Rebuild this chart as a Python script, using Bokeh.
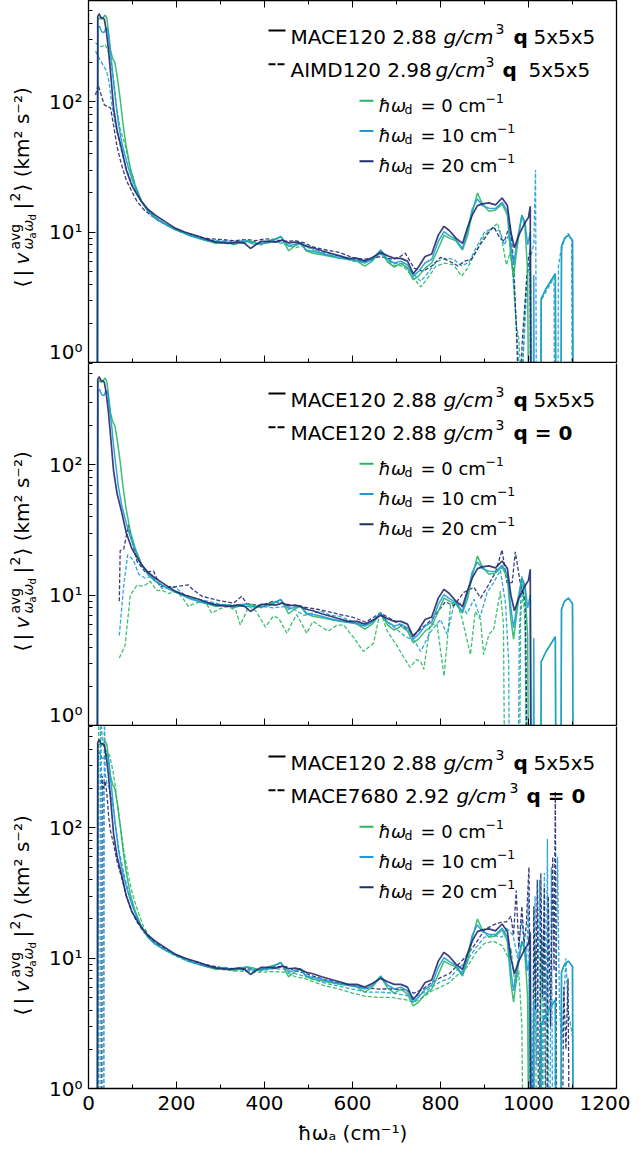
import math
from bokeh.plotting import figure
from bokeh.models import (Range1d, FixedTicker, LinearAxis, LogAxis, Label, BoxAnnotation,
                          CustomJSTickFormatter)
from bokeh.layouts import column, row
from bokeh.embed import file_html
from bokeh.resources import INLINE

# ---------------- data ----------------
# MACE120 2.88 g/cm3, q 5x5x5 (solid, same in every panel)
S0_X = [20, 21, 25, 30, 35, 38, 42, 46, 50, 55, 60, 66, 72, 78, 85, 95, 106, 120, 135, 150, 170, 190, 210,
        230, 250, 270, 290, 310, 330, 345, 360, 375, 392, 410, 425, 438, 455, 470, 482, 495, 510, 530, 550,
        570, 590, 610, 628, 645, 664, 680, 695, 710, 725, 738, 750, 765, 780, 795, 808, 820, 835, 850, 862,
        872, 884, 895, 910, 925, 940, 952, 960, 966, 975, 985, 992, 998, 1002,
        1027, 1029, 1040, 1061, 1063, 1073, 1075, 1082, 1091, 1098, 1100, 1102]
S0_Y = [0.05, 430, 440, 430, 450, 465, 430, 330, 250, 215, 200, 150, 105, 70, 47, 31, 23, 17.5, 14.5, 13.0,
        11.8, 10.8, 10.2, 9.5, 9.0, 8.6, 8.2, 8.5, 8.0, 8.3, 8.6, 8.4, 8.0, 8.6, 8.9, 9.2, 7.2, 7.9, 8.2, 7.2,
        6.9, 6.7, 6.5, 6.3, 6.2, 6.0, 5.5, 6.0, 7.2, 5.9, 5.4, 5.8, 5.3, 4.3, 4.6, 5.3, 5.8, 7.5, 9.5, 9.0,
        8.6, 7.3, 9.5, 14, 20, 16.5, 14.5, 14.8, 16.5, 13.5, 6.5, 4.6, 8, 13.5, 11, 5, 0.05,
        0.05, 3.1, 3.7, 4.8, 0.05, 0.05, 7.8, 9.0, 9.5, 8.8, 8.6, 0.05]
S10_X = [20, 21, 25, 30, 35, 40, 44, 48, 52, 57, 62, 68, 75, 82, 91, 100, 110, 120, 135, 150, 170, 190, 210,
         230, 250, 270, 290, 310, 330, 345, 360, 375, 392, 410, 425, 436, 455, 470, 482, 495, 510, 530, 550,
         570, 590, 610, 628, 645, 664, 680, 695, 710, 725, 738, 750, 765, 780, 795, 808, 820, 835, 850, 862,
         872, 884, 895, 910, 925, 940, 952, 960, 966, 975, 985, 992, 998, 1004, 1008, 1010, 1012, 1014,
         1027, 1029, 1040, 1061, 1063, 1073, 1075, 1082, 1091, 1098, 1100, 1102]
S10_Y = [0.05, 370, 380, 345, 340, 370, 360, 270, 210, 140, 100, 68, 50, 40, 31, 25, 20.5, 17.2, 14.5, 12.9,
         11.8, 10.9, 10.1, 9.4, 9.0, 8.6, 8.5, 8.4, 8.2, 8.5, 8.5, 8.1, 8.2, 8.3, 8.8, 9.3, 7.8, 8.1, 8.3, 7.3,
         7.1, 6.9, 6.6, 6.4, 6.2, 6.1, 5.8, 6.2, 7.3, 6.2, 5.8, 6.0, 5.6, 4.6, 5.0, 5.8, 6.2, 8.5, 10.1, 9.4,
         8.8, 7.5, 10.5, 15, 18, 16, 15.3, 15.2, 17, 14.5, 8, 5.6, 9, 13.5, 12, 8, 10, 0.05, 0.05, 4.7, 0.05,
         0.05, 3.1, 3.7, 4.8, 0.05, 0.05, 7.8, 9.0, 9.5, 8.8, 8.6, 0.05]
S20_X = [20, 21, 24, 28, 33, 36, 40, 45, 50, 57, 65, 75, 86, 98, 110, 120, 135, 152, 175, 198, 220, 250, 270,
         290, 318, 340, 355, 368, 380, 392, 410, 425, 440, 455, 470, 482, 495, 510, 530, 550, 570, 590, 610,
         628, 645, 664, 680, 695, 710, 725, 738, 750, 765, 780, 795, 808, 820, 835, 850, 862, 872, 884, 895,
         910, 925, 940, 952, 960, 968, 978, 990, 1000, 1004, 1006]
S20_Y = [0.05, 450, 475, 445, 440, 430, 360, 260, 170, 90, 60, 44, 30, 23, 19.5, 17.3, 15, 13.5, 12, 10.7, 10,
         9.3, 8.8, 8.4, 8.2, 8.4, 8.2, 7.5, 8.0, 8.5, 8.5, 8.4, 8.7, 8.3, 8.4, 8.2, 7.8, 7.6, 7.2, 6.9, 6.6,
         6.3, 6.3, 6.0, 6.4, 7.0, 6.6, 6.3, 6.3, 6.0, 4.8, 5.4, 6.5, 6.8, 9.5, 11.1, 10.3, 9.0, 8.2, 11.0,
         13.5, 16, 16.5, 16.8, 16.2, 18.3, 16, 10, 7.6, 9.5, 11.5, 13, 15.8, 0.05]

# AIMD120 2.98 g/cm3, q 5x5x5 (dashed, panel 1)
A0_X = [16, 22, 30, 38, 44, 52, 58, 64, 72, 83, 95, 106, 120, 140, 160, 180, 200, 225, 250, 275, 300, 330,
        360, 390, 420, 450, 470, 490, 510, 540, 570, 600, 620, 645, 664, 690, 715, 735, 755, 770, 790, 810,
        830, 848, 860, 875, 900, 920, 930, 940, 950, 958, 965, 972, 978, 985, 992, 998, 1003, 1006]
A0_Y = [285, 270, 265, 275, 250, 192, 140, 90, 62, 47, 31, 23, 17.5, 14, 12.3, 11.2, 10.3, 9.6, 9.0, 8.5,
        8.3, 8.3, 8.4, 8.1, 8.5, 8.0, 7.6, 7.9, 7.3, 6.7, 6.6, 6.0, 5.9, 6.1, 6.9, 5.6, 5.5, 4.6, 3.8, 4.4,
        5.5, 5.8, 5.6, 4.6, 5.2, 6.5, 9.5, 11, 11.7, 8.5, 5.6, 7.0, 5, 2, 1.5, 0.6, 2.5, 5.5, 6.0, 0.05]
A10_X = [16, 23, 30, 41, 47, 52, 60, 68, 78, 90, 100, 115, 135, 160, 180, 200, 225, 250, 275, 300, 330, 360,
         390, 420, 450, 470, 490, 510, 540, 570, 600, 620, 645, 664, 690, 715, 735, 755, 770, 790, 810, 830,
         848, 865, 880, 900, 920, 935, 945, 955, 962, 970, 976, 982, 990, 998, 1005, 1012, 1016, 1019,
         1027, 1029, 1040, 1058, 1060, 1066, 1068, 1073, 1082, 1090, 1098, 1100]
A10_Y = [246, 220, 200, 173, 140, 101, 70, 53, 38, 28, 23, 18.5, 14.6, 12.5, 11.2, 10.4, 9.6, 9.1, 8.7, 8.6,
         8.5, 8.6, 8.3, 8.6, 8.2, 8.0, 8.1, 7.4, 6.9, 6.6, 6.2, 6.0, 6.2, 6.8, 5.8, 5.7, 4.9, 4.2, 4.8, 5.9,
         6.3, 6.2, 5.5, 5.9, 7.5, 10, 10.8, 10.2, 8.0, 9.5, 6, 2.5, 1.2, 0.5, 1.5, 4.8, 6.5, 8, 30, 0.05,
         0.05, 3.0, 3.5, 4.5, 0.05, 0.05, 5.5, 7, 8.8, 9.8, 9.0, 0.05]
A20_X = [16, 22, 28, 36, 44, 50, 57, 65, 75, 86, 98, 110, 125, 140, 160, 180, 200, 225, 250, 275, 300, 330,
         360, 380, 400, 420, 445, 470, 490, 510, 540, 570, 600, 625, 645, 664, 690, 705, 720, 740, 760, 780,
         800, 820, 840, 855, 870, 890, 910, 921, 935, 945, 958, 966, 972, 976, 980, 986, 995, 1000, 1004, 1008]
A20_Y = [113, 135, 115, 95, 92, 90, 66, 45, 33, 25, 20.7, 17.3, 15, 13.6, 12.2, 11.2, 10.4, 9.7, 9.2, 8.9,
         8.8, 8.6, 8.8, 8.6, 8.9, 8.8, 8.5, 8.6, 8.3, 7.7, 7.3, 7.0, 6.4, 6.2, 6.3, 6.5, 6.2, 6.4, 6.9, 5.3,
         5.0, 5.5, 6.4, 6.0, 5.5, 6.0, 6.2, 8, 10, 11, 9, 8.5, 11.5, 6, 2, 0.8, 0.5, 1.5, 4, 6.3, 7.5, 0.05]

# MACE120 2.88 g/cm3, q = 0 (dashed, panel 2)
M0_X = [70, 83, 95, 110, 125, 140, 155, 170, 182, 195, 205, 215, 227, 240, 258, 270, 280, 300, 318, 335, 345,
        355, 364, 380, 402, 420, 432, 451, 462, 473, 485, 496, 510, 523, 545, 565, 580, 603, 625, 648, 663,
        679, 701, 715, 731, 745, 755, 762, 777, 792, 808, 823, 838, 849, 868, 879, 891, 898, 910, 921, 936,
        943, 948, 978, 982, 988, 993, 997]
M0_Y = [3.3, 4.1, 10, 11.9, 11.7, 12.8, 10.9, 10.8, 10.3, 10.6, 10.3, 9.4, 8.2, 8.6, 9.0, 8.4, 7.3, 7.9, 8.2,
        7.6, 5.9, 7.0, 8.2, 7.6, 5.7, 6.9, 6.7, 5.1, 6.1, 7.1, 6.0, 5.1, 6.3, 5.9, 5.3, 5.9, 5.9, 4.7, 3.7,
        4.3, 7.5, 5.3, 4.1, 3.4, 2.8, 3.2, 3.1, 2.7, 6.0, 6.0, 2.4, 8.6, 8.6, 6.6, 3.5, 7.5, 6.5, 3.5, 5.0,
        5.5, 10.7, 6, 0.05, 0.05, 7, 10.7, 5, 0.05]
M10_X = [70, 80, 89, 102, 114, 129, 144, 167, 197, 220, 245, 270, 300, 330, 360, 390, 420, 450, 470, 490, 510,
         530, 550, 570, 600, 620, 640, 663, 680, 700, 720, 740, 755, 777, 800, 815, 830, 845, 860, 876, 890,
         906, 921, 936, 948, 955, 958, 975, 979, 985, 992, 997]
M10_Y = [4.9, 11.9, 20.4, 18.6, 14.5, 13.5, 14, 11.3, 11.5, 10.0, 9.4, 9.0, 8.5, 8.4, 8.2, 8.2, 8.0, 8.2, 7.7,
         7.0, 7.3, 7.5, 7.0, 6.9, 6.3, 5.8, 6.1, 7.2, 6.2, 5.5, 4.8, 4.5, 3.7, 5.2, 6.5, 5.0, 8.3, 8.6, 7.2,
         9.3, 6.8, 10.5, 12.5, 15.6, 8.5, 3, 0.05, 0.05, 5, 14, 8, 0.05]
M20_X = [70, 72, 80, 91, 98, 110, 129, 148, 163, 197, 227, 235, 258, 303, 330, 348, 360, 392, 420, 440, 460,
         490, 520, 550, 580, 600, 630, 663, 690, 720, 740, 755, 780, 811, 830, 853, 876, 891, 906, 925, 940,
         951, 963, 970, 982, 993, 1000]
M20_Y = [9.0, 22, 22.6, 34.6, 27, 18.3, 15, 15.3, 11.7, 11.6, 12.0, 11.2, 9.8, 9.0, 8.7, 9.8, 8.6, 8.3, 9.0,
         8.7, 8.4, 8.1, 7.8, 7.4, 7.0, 6.8, 6.2, 7.3, 6.5, 5.6, 5.0, 5.5, 6.5, 8.9, 8.3, 10.5, 11.5, 9.5,
         11.5, 15, 22.3, 12.5, 12.5, 21.5, 12, 9, 0.05]

# MACE7680 2.92 g/cm3, q = 0 (dashed, panel 3)
K0_X = [22, 23, 27, 31, 36, 42, 48, 55, 60, 66, 72, 80, 90, 100, 112, 125, 140, 160, 180, 200, 225, 250, 275,
        300, 330, 360, 390, 420, 450, 470, 490, 510, 540, 570, 600, 630, 660, 690, 720, 740, 760, 780, 800,
        820, 840, 860, 880, 900, 920, 940, 955, 960, 970, 978, 985, 990, 998, 1002, 1008, 1015, 1020, 1030,
        1035, 1042, 1046]
K0_Y = [0.05, 700, 900, 500, 420, 380, 360, 280, 220, 150, 105, 68, 44, 31, 23, 17.5, 14.5, 12.3, 11.2, 10.3,
        9.5, 9.0, 8.5, 8.2, 8.0, 7.9, 7.8, 7.9, 7.8, 7.2, 7.0, 6.6, 6.1, 5.8, 5.4, 5.1, 5.0, 5.0, 4.8, 4.6,
        5.0, 5.6, 6.0, 6.5, 7.5, 8.5, 11, 13, 13.5, 12.5, 10, 12, 6, 8, 3, 0.05, 0.05, 10, 0.05, 12, 0.05,
        15, 0.05, 8, 0.05]
K10_X = [26, 27, 29, 31, 34, 35, 36, 38, 42, 48, 55, 62, 70, 80, 90, 100, 112, 125, 140, 160, 180, 200, 225,
         250, 275, 300, 330, 360, 390, 420, 450, 470, 490, 510, 540, 570, 600, 630, 660, 690, 720, 740, 760,
         780, 800, 820, 840, 860, 880, 900, 920, 940, 950, 965, 975, 985, 995, 1000, 1005, 1015, 1018, 1025,
         1030, 1036, 1040, 1043, 1047, 1052, 1056, 1066, 1070, 1075, 1085, 1090, 1100, 1103]
K10_Y = [0.05, 900, 300, 200, 180, 0.05, 900, 260, 220, 200, 150, 100, 66, 45, 33, 26, 20, 16.5, 14.2, 12.4,
         11.3, 10.5, 9.7, 9.1, 8.7, 8.4, 8.2, 8.1, 8.0, 8.3, 8.2, 7.6, 7.3, 6.9, 6.4, 6.1, 5.8, 5.5, 5.5, 5.4,
         5.2, 5.0, 5.4, 6.0, 6.6, 7.0, 8.3, 9.5, 12, 14.5, 15, 14.5, 17, 15, 10, 20, 8, 30, 0.05, 30, 1.5,
         40, 0.05, 45, 3, 82, 0.05, 50, 0.05, 60, 5, 2, 10, 4, 2.5, 0.05]
K20_X = [30, 31, 34, 38, 42, 46, 50, 57, 65, 75, 86, 98, 110, 125, 140, 160, 180, 200, 225, 250, 275, 300,
         330, 360, 390, 420, 450, 470, 490, 510, 540, 570, 600, 630, 660, 690, 720, 740, 760, 780, 800, 820,
         840, 860, 880, 900, 920, 940, 950, 960, 966, 972, 978, 985, 990, 995, 1001, 1004, 1008, 1012, 1016,
         1020, 1024, 1028, 1032, 1036, 1040, 1045, 1050, 1055, 1058, 1061, 1065, 1075, 1080, 1085, 1090, 1094]
K20_Y = [0.05, 250, 200, 230, 180, 120, 95, 75, 55, 42, 30, 23, 19, 16, 14.2, 12.6, 11.5, 10.6, 9.8, 9.2,
         8.8, 8.5, 8.3, 8.3, 8.2, 8.6, 8.6, 8.0, 7.7, 7.3, 6.8, 6.5, 6.2, 5.9, 5.8, 5.8, 5.7, 5.4, 5.8, 6.5,
         7.1, 7.6, 8.9, 10.5, 13, 16.5, 18, 19, 19, 21, 15, 33, 12, 25, 13, 18, 50, 4, 0.05, 25, 4, 40, 0.05,
         45, 5, 35, 0.05, 30, 3, 60, 8, 190, 0.05, 0.05, 6, 2, 7, 0.05]

SERIES_LABELS = ["0", "10", "20"]
COLORS = ["#27b764", "#1e9bd7", "#232a6e"]
X_TICKS = [0, 200, 400, 600, 800, 1000, 1200]
X_MINOR = [100, 300, 500, 700, 900, 1100]
Y_TICKS = [1, 10, 100]
Y_MINOR = [2, 3, 4, 5, 6, 7, 8, 9, 20, 30, 40, 50, 60, 70, 80, 90, 200, 300, 400, 500, 600]
Y_MAX = 600
X_LABEL = "ħωₐ (cm⁻¹)"
PANEL_ROW2 = [
    ("AIMD120 2.98", 435, 485, 502, "q", "5x5x5", 528),
    ("MACE120 2.88", 443, 495, 513, "q = 0", None, None),
    ("MACE7680 2.92", 456, 509, 526, "q = 0", None, None),
]

SOLID = [(S0_X, S0_Y), (S10_X, S10_Y), (S20_X, S20_Y)]
DASHED = [
    [(A0_X, A0_Y), (A10_X, A10_Y), (A20_X, A20_Y)],
    [(M0_X, M0_Y), (M10_X, M10_Y), (M20_X, M20_Y)],
    [(K0_X, K0_Y), (K10_X, K10_Y), (K20_X, K20_Y)],
]

# ---------------- layout ----------------
FW, FH = 528, 362
TOP = 3             # page y of the first frame's top edge
GAP = 1             # border under panels 1 and 2 (keeps their axis line whole)
STRIP_W = 43        # strip holding the rotated y labels
AX_W = 45           # panel left border for the y tick labels; frame left = 88
FRAME_L = STRIP_W + AX_W
STRIP_H = 1092
FONT = "DejaVu Sans"
xr = Range1d(0, 1200)

ylog_fmt = CustomJSTickFormatter(code="""
const s = {"0": "\u2070", "1": "\u00b9", "2": "\u00b2", "3": "\u00b3"};
const e = Math.round(Math.log10(tick));
return "10" + s[String(e)];
""")
blank_fmt = CustomJSTickFormatter(code="return '';")


def txt(p, page_x, dy, text, size, style="normal", color="black"):
    """page_x = page pixel x, dy = baseline pixels below the frame top"""
    p.add_layout(Label(x=page_x - FRAME_L, y=FH - dy, x_units="screen", y_units="screen", text=text,
                       text_font=FONT, text_font_size=f"{size}px", text_font_style=style,
                       text_color=color, text_align="left", text_baseline="alphabetic"))


def handle(p, x0, x1, dy, color, dash="solid", width=2.0):
    p.add_layout(BoxAnnotation(left=x0 - FRAME_L, right=x1 - FRAME_L, top=FH - dy, bottom=FH - dy,
                               left_units="screen", right_units="screen", top_units="screen",
                               bottom_units="screen", fill_alpha=0, line_color=color, line_alpha=1.0,
                               line_width=width, line_dash=dash, level="overlay"))


def style_axis(ax, ticks, minor, labels):
    ax.ticker = FixedTicker(ticks=ticks, minor_ticks=minor)
    ax.major_tick_in, ax.major_tick_out = 7, 0
    ax.minor_tick_in, ax.minor_tick_out = 4, 0
    ax.axis_line_width = 1.3
    ax.axis_line_color = "black"
    ax.major_tick_line_color = "black"
    ax.minor_tick_line_color = "black"
    if labels:
        ax.major_label_text_font = FONT
        ax.major_label_text_font_size = "20px"
        ax.major_label_text_color = "black"
        ax.major_label_standoff = 7
    else:
        ax.formatter = blank_fmt
        ax.major_label_text_font_size = "0px"
        ax.major_label_standoff = 0


def make_panel(i):
    bottom = (i == 2)
    p = figure(frame_width=FW, frame_height=FH, x_range=xr, y_range=Range1d(1, Y_MAX), y_axis_type="log",
               output_backend="svg", toolbar_location=None, min_border_left=AX_W, min_border_right=14,
               min_border_top=0, min_border_bottom=0 if bottom else GAP)
    p.grid.visible = False
    p.outline_line_color = None
    p.background_fill_color = "white"

    ya = p.yaxis[0]
    style_axis(ya, Y_TICKS, Y_MINOR, True)
    ya.formatter = ylog_fmt
    ya.major_label_standoff = 6

    ra = LogAxis()
    style_axis(ra, [], [], False)
    ra.major_tick_in = ra.minor_tick_in = 0
    p.add_layout(ra, "right")

    xa = p.xaxis[0]
    style_axis(xa, X_TICKS, X_MINOR, bottom)
    if bottom:
        xa.axis_label = X_LABEL
        xa.axis_label_text_font = FONT
        xa.axis_label_text_font_size = "20px"
        xa.axis_label_text_font_style = "normal"
        xa.axis_label_text_color = "black"
        xa.axis_label_standoff = 8

    if i == 0:
        top = LinearAxis()
        style_axis(top, X_TICKS, X_MINOR, False)
        p.add_layout(top, "above")

    # curves
    for k, (xs, ys) in enumerate(DASHED[i]):
        p.line(xs, ys, line_color=COLORS[k], line_width=1.3, line_dash="4 2", line_alpha=0.9)
    for k, (xs, ys) in enumerate(SOLID):
        p.line(xs, ys, line_color=COLORS[k], line_width=1.5 if k < 2 else 1.7, line_alpha=0.9)

    # main legend
    handle(p, 268, 285, 30, "black")
    handle(p, 268, 285, 63.7, "black", dash="6 3")
    txt(p, 290, 36.3, "MACE120 2.88", 20)
    txt(p, 443, 36.3, "g/cm", 20, "italic")
    txt(p, 495, 28.5, "3", 14)
    txt(p, 513, 36.3, "q", 20, "bold")
    txt(p, 533, 36.3, "5x5x5", 20)
    name, gx, sx3, qx, qtxt, tail, tx = PANEL_ROW2[i]
    txt(p, 290, 69.7, name, 20)
    txt(p, gx, 69.7, "g/cm", 20, "italic")
    txt(p, sx3, 61.9, "3", 14)
    txt(p, qx, 69.7, qtxt, 20, "bold")
    if tail:
        txt(p, tx, 69.7, tail, 20)

    # omega_d legend
    for k, lab in enumerate(SERIES_LABELS):
        base = 105 + 30.2 * k
        handle(p, 359, 373, base - 4.7, COLORS[k], width=2.0)
        txt(p, 378, base, "ħω", 18, "italic")
        txt(p, 404, base + 3.5, "d", 12.5)
        txt(p, 420, base, f"= {lab} cm", 18)
        wid = 65 + 11.4 * (len(lab) - 1)
        txt(p, 420 + wid, base - 7.5, "−1", 12.5)
    return p


panels = [make_panel(i) for i in range(3)]

# ---- strip on the left: rotated y-axis labels ----
strip = figure(frame_width=STRIP_W, frame_height=STRIP_H, x_range=Range1d(0, 1), y_range=Range1d(0, 1),
               output_backend="svg", toolbar_location=None, min_border=0)
strip.axis.visible = False
strip.grid.visible = False
strip.outline_line_color = None

rot = math.pi / 2
# (text, size, style, u = offset of the start above the panel centre, x of the text's centre line)
pieces = [("⟨", 20, "normal", -100, 21), ("|", 20, "normal", -89, 21), ("v", 20, "italic", -77, 21),
          ("avg", 14, "normal", -62, 14.5), ("ω", 14, "italic", -62, 27.5), ("a", 10, "normal", -51, 31.5),
          ("ω", 14, "italic", -44, 27.5), ("d", 10, "normal", -33, 31.5), ("|", 20, "normal", -22, 21),
          ("2", 14, "normal", -14, 14.5), ("⟩ (km² s⁻²)", 20, "normal", -4, 21)]
for i in range(3):
    centre = TOP + 3 + i * (FH + GAP + 1) + FH / 2
    for t, sz, st, u, cx in pieces:
        strip.add_layout(Label(x=cx, y=STRIP_H - (centre - u), x_units="screen", y_units="screen",
                               text=t, text_font=FONT, text_font_size=f"{sz}px", text_font_style=st,
                               text_color="black", angle=rot, text_align="left",
                               text_baseline="middle"))

layout = row(strip, column(*panels, spacing=0), spacing=0)
open("out.html", "w").write(file_html(layout, INLINE))
